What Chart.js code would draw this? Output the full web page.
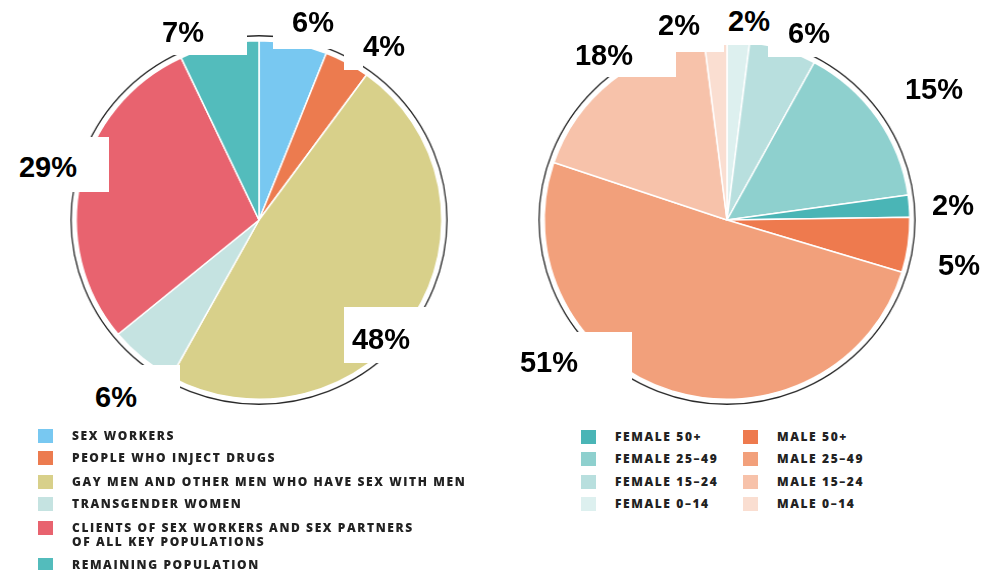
<!DOCTYPE html>
<html><head><meta charset="utf-8">
<script src="https://cdn.jsdelivr.net/npm/chart.js@4.4.1/dist/chart.umd.min.js"></script>
<style>
html,body{margin:0;padding:0;background:#fff;}
body{width:989px;height:570px;position:relative;overflow:hidden;}
.pie{position:absolute;transform:scaleX(1.02);transform-origin:50% 50%;}
.mask{position:absolute;background:#fff;}
.pct{position:absolute;font:bold 29px "Liberation Sans",Arial,sans-serif;color:#000;transform:translate(-50%,-50%);white-space:nowrap;line-height:1;}
.lt{position:absolute;white-space:pre;font-family:"Open Sans",sans-serif;font-weight:800;font-size:12px;letter-spacing:1.6px;color:#222;line-height:14px;}
.sw{position:absolute;width:15px;height:14px;}
</style></head>
<body>
<div class="pie" id="p1" style="left:68px;top:29px;width:382px;height:382px"><canvas id="c1"></canvas></div>
<div class="pie" id="p2" style="left:536px;top:29px;width:382px;height:382px"><canvas id="c2"></canvas></div>
<div id="overlay"></div>
<script>
// ---- data: key populations (left pie), clockwise from top
const keyPopCategories = ["SEX WORKERS","PEOPLE WHO INJECT DRUGS","GAY MEN AND OTHER MEN WHO HAVE SEX WITH MEN","TRANSGENDER WOMEN","CLIENTS OF SEX WORKERS AND SEX PARTNERS\nOF ALL KEY POPULATIONS","REMAINING POPULATION"];
const keyPopValues = [6, 4, 48, 6, 29, 7];
const keyPopColors = ["#78C8F1","#EC7B4F","#D8D08A","#C5E3E1","#E8636F","#53BCBC"];

// ---- data: sex and age (right pie), clockwise from top
const sexAgeCategories = ["FEMALE 0–14","FEMALE 15–24","FEMALE 25–49","FEMALE 50+","MALE 50+","MALE 25–49","MALE 15–24","MALE 0–14"];
const sexAgeValues = [2, 6, 15, 2, 5, 51, 18, 2];
const sexAgeColors = ["#DDF0EF","#B8DFDE","#8ED0CE","#4AB5B6","#EE7A4E","#F2A07B","#F7C2AA","#FADED1"];
// legend order for right pie
const sexAgeLegendCol1 = ["FEMALE 50+","FEMALE 25–49","FEMALE 15–24","FEMALE 0–14"];
const sexAgeLegendCol2 = ["MALE 50+","MALE 25–49","MALE 15–24","MALE 0–14"];

const ringPlugin = {
  id:'ring',
  beforeDatasetsDraw(chart){
    const a = chart.getDatasetMeta(0).data[0];
    if(!a) return;
    const ctx = chart.ctx;
    ctx.save();
    ctx.beginPath();
    ctx.arc(a.x, a.y, a.outerRadius + 5, 0, Math.PI*2);
    ctx.strokeStyle = '#2a2a2a';
    ctx.lineWidth = 1.3;
    ctx.stroke();
    ctx.restore();
  }
};

function makePie(id, labels, values, colors){
  return new Chart(document.getElementById(id), {
    type:'pie',
    data:{labels:labels, datasets:[{data:values, backgroundColor:colors, borderColor:'#ffffff', borderWidth:1.5}]},
    options:{
      responsive:true, maintainAspectRatio:false, animation:false,
      layout:{padding:11},
      plugins:{legend:{display:false}, tooltip:{enabled:false}}
    },
    plugins:[ringPlugin]
  });
}
makePie('c1', keyPopCategories, keyPopValues, keyPopColors);
makePie('c2', sexAgeCategories, sexAgeValues, sexAgeColors);

// ---- overlay: white label boxes, percentage labels, legends
const ov = document.getElementById('overlay');
function el(cls, style, text){
  const d = document.createElement('div');
  d.className = cls;
  Object.assign(d.style, style);
  if(text !== undefined) d.textContent = text;
  ov.appendChild(d);
  return d;
}
// white boxes [left, top, width, height]
const masks = [
  [140,0,107,55],[273,0,71,49],[344,0,19,70],
  [0,137,109,55],[344,307,96,56],[50,365,130,60],
  [540,0,136,77],[676,0,48,52],[724,0,44,45],[768,0,70,57],
  [495,332,137,53]
];
masks.forEach(m => el('mask',{left:m[0]+'px',top:m[1]+'px',width:m[2]+'px',height:m[3]+'px'}));

// percentage label centers (layout)
const keyPopLabelPos = [[313,22],[384,46],[381,339],[116,397],[48,167],[183,32]];
const sexAgeLabelPos = [[749,21],[809,33],[934,89],[953,205],[959,265],[549,362],[604,55],[679,25]];
keyPopValues.forEach((v,i)=>el('pct',{left:keyPopLabelPos[i][0]+'px',top:keyPopLabelPos[i][1]+'px'}, v+'%'));
sexAgeValues.forEach((v,i)=>el('pct',{left:sexAgeLabelPos[i][0]+'px',top:sexAgeLabelPos[i][1]+'px'}, v+'%'));

// left legend
const leftRowY = [436,458,482,504,528,565];
keyPopCategories.forEach((c,i)=>{
  const y = leftRowY[i];
  el('sw',{left:'38px',top:(y-7)+'px',background:keyPopColors[i]});
  el('lt',{left:'72px',top:(y-7)+'px'}, c);
});
// right legend
const rightRowY = [437,459,482,504];
function legCol(list, sx, tx){
  list.forEach((c,i)=>{
    const idx = sexAgeCategories.indexOf(c);
    const y = rightRowY[i];
    el('sw',{left:sx+'px',top:(y-7)+'px',background:sexAgeColors[idx]});
    el('lt',{left:tx+'px',top:(y-7)+'px'}, c);
  });
}
legCol(sexAgeLegendCol1, 581, 615);
legCol(sexAgeLegendCol2, 743, 777);
</script>
</body></html>
